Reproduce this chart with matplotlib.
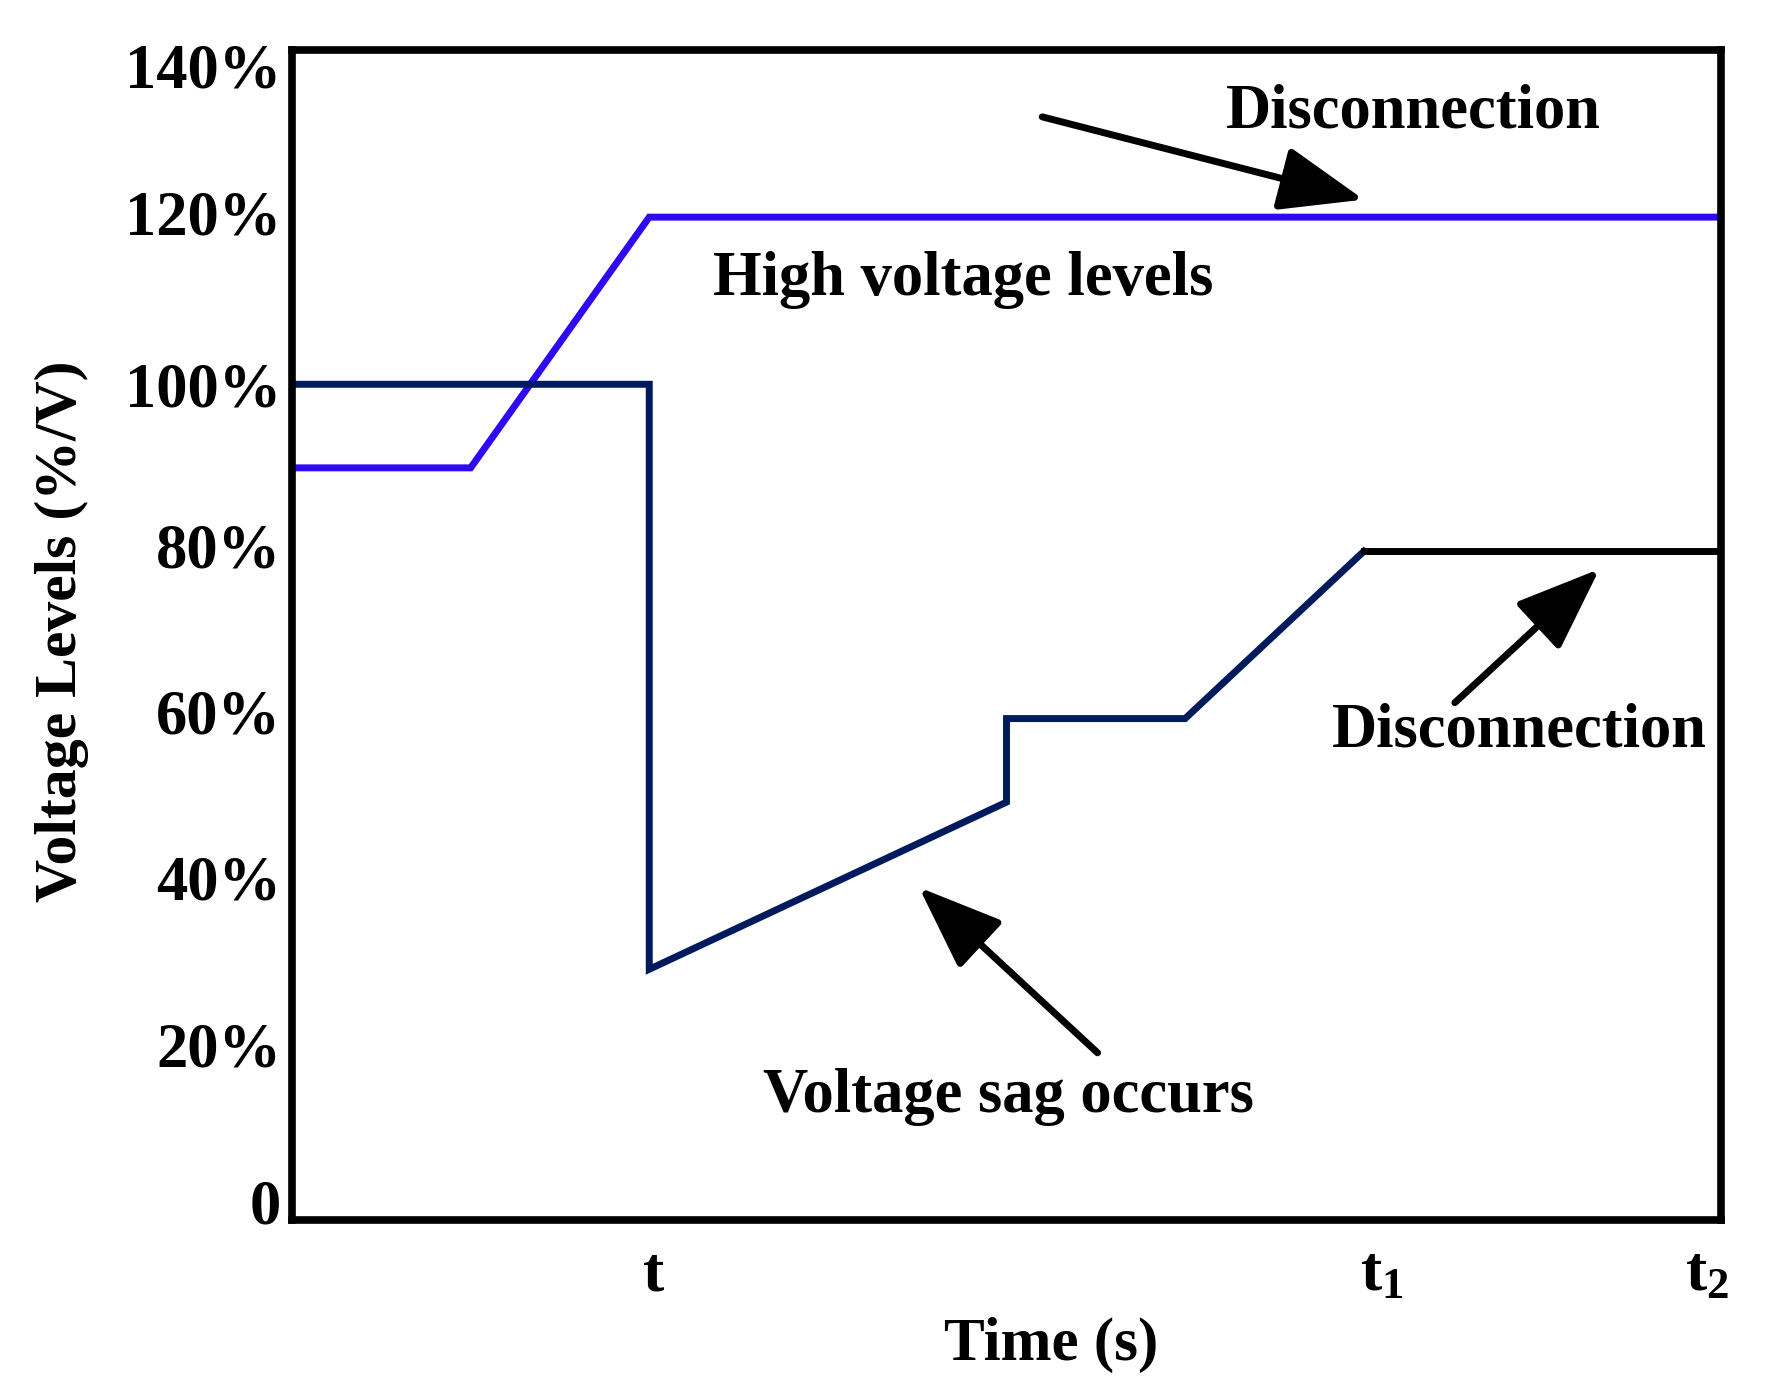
import matplotlib.pyplot as plt
from matplotlib.transforms import ScaledTranslation

plt.rcParams["font.family"] = ["Liberation Serif", "DejaVu Serif"]
plt.rcParams["font.weight"] = "bold"
plt.rcParams["mathtext.fontset"] = "custom"
plt.rcParams["mathtext.rm"] = "Liberation Serif:bold"
plt.rcParams["mathtext.it"] = "Liberation Serif:bold"
plt.rcParams["mathtext.bf"] = "Liberation Serif:bold"

# high voltage ride-through curve
high_t = [0, 1, 2, 8]
high_v = [90, 90, 120, 120]

# low voltage (sag) curve
low_t = [0, 2, 2, 4, 4, 5, 6]
low_v = [100, 100, 30, 50, 60, 60, 80]

# disconnection level after t1
disc_t = [6, 8]
disc_v = [80, 80]

x_ticks = [2, 6, 8]
x_labels = ["t", r"t$_{1}$", r"t$_{2}$"]
y_ticks = [0, 20, 40, 60, 80, 100, 120, 140]
y_labels = ["0", "20%", "40%", "60%", "80%", "100%", "120%", "140%"]

fig = plt.figure(figsize=(17.74, 14), dpi=100)
ax = fig.add_axes([292 / 1774, 1 - 1220 / 1400, 1429 / 1774, 1170 / 1400])

ax.plot(high_t, high_v, color="#3008F4", lw=5, solid_joinstyle="miter")
ax.plot(low_t, low_v, color="#001A5E", lw=5, solid_joinstyle="miter")
ax.plot(disc_t, disc_v, color="black", lw=5)

ax.set_xlim(0, 8)
ax.set_ylim(0, 140)
ax.set_xticks(x_ticks)
ax.set_xticklabels(x_labels)
ax.set_yticks(y_ticks)
ax.set_yticklabels(y_labels)
ax.tick_params(axis="both", length=0)
ax.tick_params(axis="x", pad=19, labelsize=46)
ax.tick_params(axis="y", pad=8, labelsize=45)
for sp in ax.spines.values():
    sp.set_linewidth(5.5)

# nudge tick labels the way they sit in the original drawing (points)
x_shift = [3, 13, -10]
for lab, dx in zip(ax.get_xticklabels(), x_shift):
    lab.set_transform(lab.get_transform() + ScaledTranslation(dx / 72, 0, fig.dpi_scale_trans))
y_shift = [13, 6, 6, 5, 4, 0, 3, -11]
for lab, dy in zip(ax.get_yticklabels(), y_shift):
    lab.set_transform(lab.get_transform() + ScaledTranslation(0, dy / 72, fig.dpi_scale_trans))

ax.set_xlabel("Time (s)", fontsize=44, fontweight="bold")
ax.xaxis.label.set_va("baseline")
ax.xaxis.set_label_coords(0.531, -0.12)
ax.set_ylabel("Voltage Levels (%/V)", fontsize=43, fontweight="bold")
ax.yaxis.label.set_va("center")
ax.yaxis.set_label_coords(-0.161, 0.503)

arrow = dict(arrowstyle="-|>,head_length=1.3,head_width=0.5", color="black",
             lw=5, mutation_scale=40, shrinkA=0, shrinkB=0)
ax.annotate("", xy=(6.0, 122.1), xytext=(4.2, 132.0), arrowprops=arrow)
ax.annotate("", xy=(7.32, 77.9), xytext=(6.51, 61.9), arrowprops=arrow)
ax.annotate("", xy=(3.51, 39.8), xytext=(4.51, 20.0), arrowprops=arrow)

txt = dict(fontsize=45, fontweight="bold", ha="center", va="baseline")
ax.text(6.28, 130.7, "Disconnection", **txt)
ax.text(3.76, 110.7, "High voltage levels", **txt)
ax.text(6.87, 56.6, "Disconnection", **txt)
ax.text(4.01, 12.9, "Voltage sag occurs", **txt)

fig.savefig("out.png", dpi=100)
